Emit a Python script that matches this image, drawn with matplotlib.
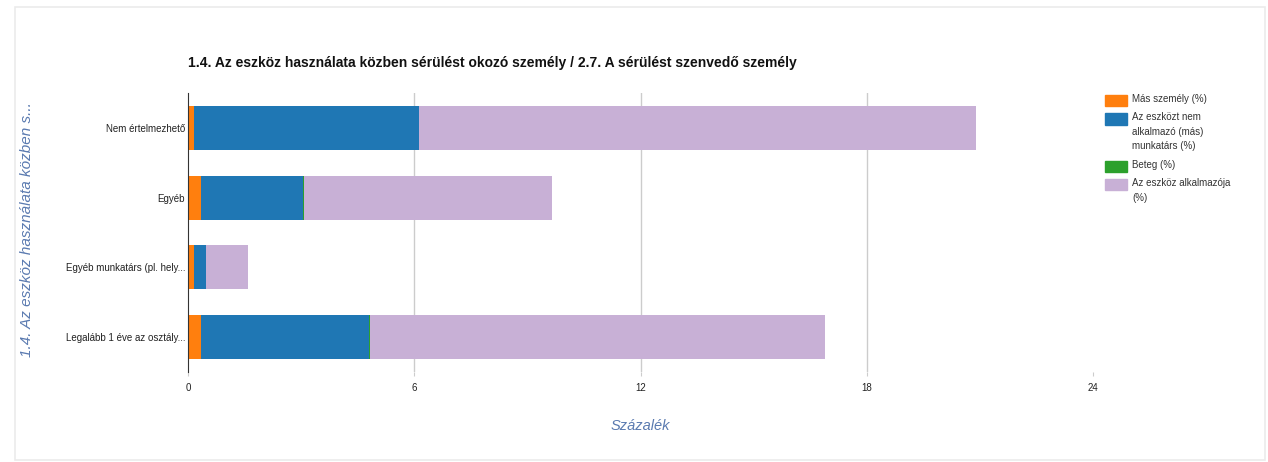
import matplotlib.pyplot as plt
from matplotlib.patches import Rectangle

plt.rcParams['font.family'] = ['Liberation Sans', 'DejaVu Sans']

categories = ['Nem értelmezhető', 'Egyéb', 'Egyéb munkatárs (pl. hely...',
              'Legalább 1 éve az osztály...']
series_names = ['Más személy (%)', 'Az eszközt nem\nalkalmazó (más)\nmunkatárs (%)',
                'Beteg (%)', 'Az eszköz alkalmazója\n(%)']
mas_szemely = [0.16, 0.34, 0.16, 0.34]
nem_alkalmazo = [5.96, 2.71, 0.32, 4.46]
beteg = [0.0, 0.02, 0.0, 0.02]
alkalmazoja = [14.78, 6.57, 1.11, 12.07]
colors = ['#ff7f0e', '#1f77b4', '#2ca02c', '#c8b0d6']
xticks = [0, 6, 12, 18, 24]

fig = plt.figure(figsize=(12.68, 4.62), dpi=100)
ax = fig.add_axes([188/1268, 1-372/462, (1093-188)/1268, (372-93)/462])

# faint outer frame
fig.patches.append(Rectangle((15/1268, 2/462), 1250/1268, 453/462, transform=fig.transFigure,
                             fill=False, edgecolor='#ebebeb', linewidth=1.2))

ypos = list(range(len(categories)))
left = [0.0] * len(categories)
for vals, col in zip([mas_szemely, nem_alkalmazo, beteg, alkalmazoja], colors):
    ax.barh(ypos, vals, left=left, height=0.63, color=col, edgecolor='none', zorder=3)
    left = [l + v for l, v in zip(left, vals)]

ax.set_xlim(0, 24)
ax.set_ylim(3.5, -0.5)
ax.set_xticks(xticks)
ax.set_xticklabels([str(t) for t in xticks], fontsize=7, color='#222222')
ax.set_yticks(ypos)
ax.set_yticklabels(categories, fontsize=7, color='#222222')
ax.tick_params(axis='y', length=0, pad=2)
ax.tick_params(axis='x', length=3, color='#cccccc', pad=5)
for t in xticks[1:-1]:
    ax.axvline(t, color='#cccccc', linewidth=1, zorder=0)
for s in ['top', 'right', 'bottom']:
    ax.spines[s].set_visible(False)
ax.spines['left'].set_color('#333333')
ax.spines['left'].set_zorder(5)

ax.set_title('1.4. Az eszköz használata közben sérülést okozó személy / 2.7. A sérülést szenvedő személy',
             fontsize=10, fontweight='bold', color='#111111', pad=19, loc='left', x=0.0)
fig.text(640/1268, 1-426/462, 'Százalék', fontsize=10.5, style='italic', color='#5a7ab0',
         ha='center', va='center')
fig.text(27/1268, 1-230/462, '1.4. Az eszköz használata közben s...', fontsize=11,
         style='italic', color='#5a7ab0', rotation=90, ha='center', va='center')

# legend drawn by hand so the swatch sits on the first text line
ly = 1-95/462
line_h = 14.5/462
for name, col in zip(series_names, colors):
    fig.patches.append(Rectangle((1105/1268, ly - 11/462), 22/1268, 11/462,
                                 transform=fig.transFigure, color=col))
    fig.text(1132/1268, ly + 1/462, name, fontsize=7, color='#333333', va='top', ha='left',
             linespacing=1.55)
    ly -= line_h * (name.count('\n') + 1) + 4/462

fig.savefig('out.png', dpi=100)
